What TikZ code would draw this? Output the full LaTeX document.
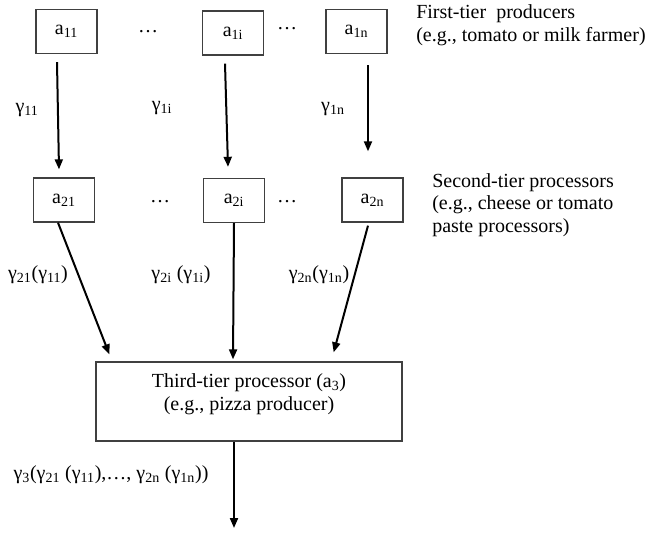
\documentclass[tikz,border=0pt]{standalone}
\usepackage{fontspec}
\setmainfont{Liberation Serif}
\usetikzlibrary{arrows.meta,calc}
\newcommand{\idx}[1]{\textsubscript{#1}}

\begin{document}
\begin{tikzpicture}[
                x=0.75pt, y=-0.75pt,
                font=\fontsize{15}{17}\selectfont,
                tier/.style={rectangle, draw=black!75, line width=1pt, inner sep=0pt, minimum width=45.75pt, minimum height=33pt},
                arrow/.style={line width=1.5pt, -{Triangle[length=7.5pt,width=6pt]}},
                lbl/.style={inner sep=0pt},
                side/.style={align=left, anchor=west, inner sep=0pt}
            ]
                \useasboundingbox (0,0) rectangle (651,535);

                \node[tier] (a11) at (66.5,31.5) {a\idx{11}};
                \node[tier] (a1i) at (233,33) {a\idx{1i}};
                \node[tier] (a1n) at (356.5,31.5) {a\idx{1n}};
                \node[lbl] (dots11) at (148,32) {…};
                \node[lbl] (dots12) at (287,29) {…};
                \node[side] (first) at (416,25) {First-tier~ producers\\(e.g., tomato or milk farmer)};

                \node[tier] (a21) at (64,200) {a\idx{21}};
                \node[tier] (a2i) at (234,200.5) {a\idx{2i}};
                \node[tier] (a2n) at (372.5,200) {a\idx{2n}};
                \node[lbl] (dots21) at (160,202) {…};
                \node[lbl] (dots22) at (287,202) {…};
                \node[side] (second) at (432,205) {Second-tier processors\\(e.g., cheese or tomato\\paste processors)};

                \node[tier, minimum width=229.5pt, minimum height=59.25pt] (third) at (249,401.5) {};
                \node[align=center, inner sep=0pt] (thirdtext) at (249,394.5) {Third-tier processor (a\idx{3})\\(e.g., pizza producer)};
                \coordinate (sink) at (234,528);

                \node[lbl] (g11) at (27,110) {γ\idx{11}};
                \node[lbl] (g1i) at (162,108) {γ\idx{1i}};
                \node[lbl] (g1n) at (333,109) {γ\idx{1n}};
                \node[lbl] (g21) at (38,275) {γ\idx{21}(γ\idx{11})};
                \node[lbl] (g2i) at (181,275) {γ\idx{2i} (γ\idx{1i})};
                \node[lbl] (g2n) at (319,275) {γ\idx{2n}(γ\idx{1n})};
                \node[lbl] (g3) at (111,475) {γ\idx{3}(γ\idx{21} (γ\idx{11}),…, γ\idx{2n} (γ\idx{1n}))};

                \draw[arrow] ($(a11.south)+(-9.5,8)$) -- ($(a21.north)+(-5,-8)$);
                \draw[arrow] ($(a1i.south)+(-8,8)$) -- ($(a2i.north)+(-6,-11)$);
                \draw[arrow] ($(a1n.south)+(11.5,11)$) -- ($(a2n.north)+(-4.5,-26)$);
                \draw[arrow] ($(a21.south)+(-6,0)$) -- ($(third.north west)+(14,-7)$);
                \draw[arrow] (a2i.south) -- ($(third.north)+(-16,-2)$);
                \draw[arrow] ($(a2n.south)+(-4.5,3)$) -- ($(third.north east)+(-69,-9)$);
                \draw[arrow] ($(third.south)+(-15,0)$) -- (sink);
            \end{tikzpicture}
\end{document}
